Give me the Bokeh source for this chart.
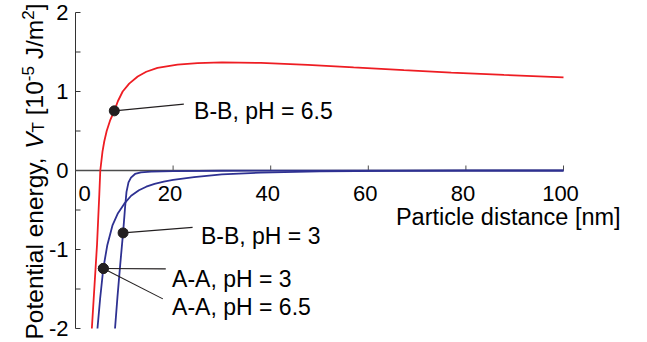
import math
from bokeh.plotting import figure
from bokeh.models import Range1d, ColumnDataSource
from bokeh.core.properties import value
from bokeh.embed import file_html
from bokeh.resources import INLINE

# ---- data ----
# B-B, pH = 6.5 (red)
bb65_x = [3.35, 3.9, 4.41, 4.88, 5.08, 5.53, 5.9, 6.39, 7.07, 7.95, 8.7, 9.67, 11.0, 12.75,
          14.5, 16.8, 20.9, 25.0, 30.0, 38.0, 47.6, 57.0, 67.3, 77.0, 87.8, 100.0]
bb65_y = [-2.0, -1.45, -0.94, -0.30, 0.0, 0.24, 0.37, 0.5, 0.63, 0.755, 0.88, 1.0, 1.1, 1.19,
          1.25, 1.30, 1.34, 1.36, 1.368, 1.362, 1.338, 1.305, 1.27, 1.24, 1.21, 1.18]
# A-A, pH = 3 and pH = 6.5 (blue, same curve)
aa_x = [4.5, 5.05, 5.7, 6.5, 7.6, 8.7, 10.0, 11.4, 13.0, 14.5, 16.2, 18.1, 20.0, 24.3,
        30.0, 38.0, 50.0, 65.0, 80.0, 100.0]
aa_y = [-2.0, -1.62, -1.24, -0.95, -0.69, -0.54, -0.42, -0.32, -0.25, -0.205, -0.17, -0.14,
        -0.12, -0.085, -0.05, -0.027, -0.012, -0.005, -0.002, -0.001]
# B-B, pH = 3 (blue)
bb3_x = [8.1, 8.6, 9.15, 9.75, 10.18, 10.45, 10.86, 11.37, 12.2, 13.4, 15.5, 20.0, 30.0, 50.0, 100.0]
bb3_y = [-2.0, -1.6, -1.2, -0.79, -0.45, -0.27, -0.15, -0.09, -0.044, -0.025, -0.013, -0.007,
         -0.003, -0.001, 0.0]

# annotations
ann_labels = ["B-B, pH = 6.5", "B-B, pH = 3", "A-A, pH = 3", "A-A, pH = 6.5"]
ann_dot_x = [7.95, 9.75, 5.7, 5.7]
ann_dot_y = [0.755, -0.79, -1.24, -1.24]
ann_end_x = [22.2, 24.0, 18.5, 17.9]
ann_end_y = [0.84, -0.72, -1.245, -1.625]
ann_text_x = [24.3, 25.7, 19.8, 19.8]
ann_text_y = [0.747, -0.835, -1.37, -1.73]

x_ticks = [0, 20, 40, 60, 80, 100]
x_tick_labels = ["0", "20", "40", "60", "80", "100"]
y_ticks = [-2, -1, 0, 1, 2]
y_tick_labels = ["-2", "-1", "0", "1", "2"]
y_minor_ticks = [-1.5, -0.5, 0.5, 1.5]
x_title = "Particle distance [nm]"

FONT = "Liberation Sans"
RED = "#EE1D23"
BLUE = "#2E3192"
INK = "#231F20"
AXIS = "#333333"

# layout (canvas pixels): x=0 at px 75, 4.88 px per nm; y=0 at py 170, 79 px per unit
XS = 4.88
YS = 79.0
x0_px = 75
y0_py = 170
W, H = 645, 342

p = figure(width=W, height=H, output_backend="svg", toolbar_location=None,
           x_range=Range1d(-x0_px / XS, (W - x0_px) / XS),
           y_range=Range1d(-(H - y0_py) / YS, y0_py / YS),
           x_axis_location=None, y_axis_location=None)
p.min_border = 0
p.min_border_left = 0
p.min_border_right = 0
p.min_border_top = 0
p.min_border_bottom = 0
p.outline_line_color = None
p.grid.visible = False
p.background_fill_color = "white"
p.border_fill_color = "white"

# y axis (drawn at x = 0, from -2 to 2)
p.line([0, 0], [y_ticks[0], y_ticks[-1]], line_color=AXIS, line_width=1)
all_y_ticks = y_ticks + y_minor_ticks
p.segment(x0=[0] * len(all_y_ticks), y0=all_y_ticks, x1=[5 / XS] * len(all_y_ticks),
          y1=all_y_ticks, line_color=AXIS, line_width=1)
p.text(x=[0] * len(y_ticks), y=y_ticks, text=y_tick_labels, x_offset=-7,
       text_font=value(FONT), text_font_size="22px", text_align="right",
       text_baseline="middle", text_color="black")

# x axis drawn at y = 0
p.line([x_ticks[0], x_ticks[-1]], [0, 0], line_color="#4D4D4D", line_width=1.6)
p.segment(x0=x_ticks[1:], y0=[0] * (len(x_ticks) - 1), x1=x_ticks[1:],
          y1=[5 / YS] * (len(x_ticks) - 1), line_color="#4D4D4D", line_width=1)
xt_src = ColumnDataSource(dict(x=x_ticks, y=[-0.29] * len(x_ticks), text=x_tick_labels,
                               dx=[9] + [-3] * (len(x_ticks) - 1)))
p.text(x="x", y="y", text="text", x_offset="dx", source=xt_src, text_font=value(FONT),
       text_font_size="22px", text_align="center", text_baseline="alphabetic",
       text_color="black")
p.text(x=[111.7], y=[-0.585], text=[x_title], text_font=value(FONT), text_font_size="23.5px",
       text_align="right", text_baseline="alphabetic", text_color="black")

# curves
p.line(bb65_x, bb65_y, line_color=RED, line_width=1.8)
p.line(aa_x, aa_y, line_color=BLUE, line_width=1.8)
p.line(bb3_x, bb3_y, line_color=BLUE, line_width=1.8)

# leader lines, dots, labels
p.segment(x0=ann_dot_x, y0=ann_dot_y, x1=ann_end_x, y1=ann_end_y, line_color=INK, line_width=1.1)
p.scatter(ann_dot_x, ann_dot_y, size=10, fill_color=INK, line_color=INK)
p.text(x=ann_text_x, y=ann_text_y, text=ann_labels, text_font=value(FONT), text_font_size="23px",
       text_align="left", text_baseline="alphabetic", text_color="black")

# y-axis title built from pieces (rotated, reading upwards); positions in canvas pixels
def ypos(py):
    return (y0_py - py) / YS

def xpos(px):
    return (px - x0_px) / XS

pieces = [
    ("Potential energy,", 339.0, 34, "24.5px", "normal"),
    ("V", 148.3, 34, "24.5px", "italic"),
    ("T", 132.0, 38, "17px", "normal"),
    ("[10", 114.8, 34, "24.5px", "normal"),
    ("-5", 80.7, 27, "17px", "normal"),
    ("J/m", 58.8, 34, "24.5px", "normal"),
    ("2", 19.3, 27, "17px", "normal"),
    ("]", 9.8, 34, "24.5px", "normal"),
]
for txt, py, px, fs, style in pieces:
    p.text(x=[xpos(px)], y=[ypos(py)], text=[txt], angle=math.pi / 2,
           text_font=value(FONT), text_font_size=fs, text_font_style=style,
           text_align="left", text_baseline="alphabetic", text_color="black")

open("out.html", "w").write(file_html(p, INLINE))
